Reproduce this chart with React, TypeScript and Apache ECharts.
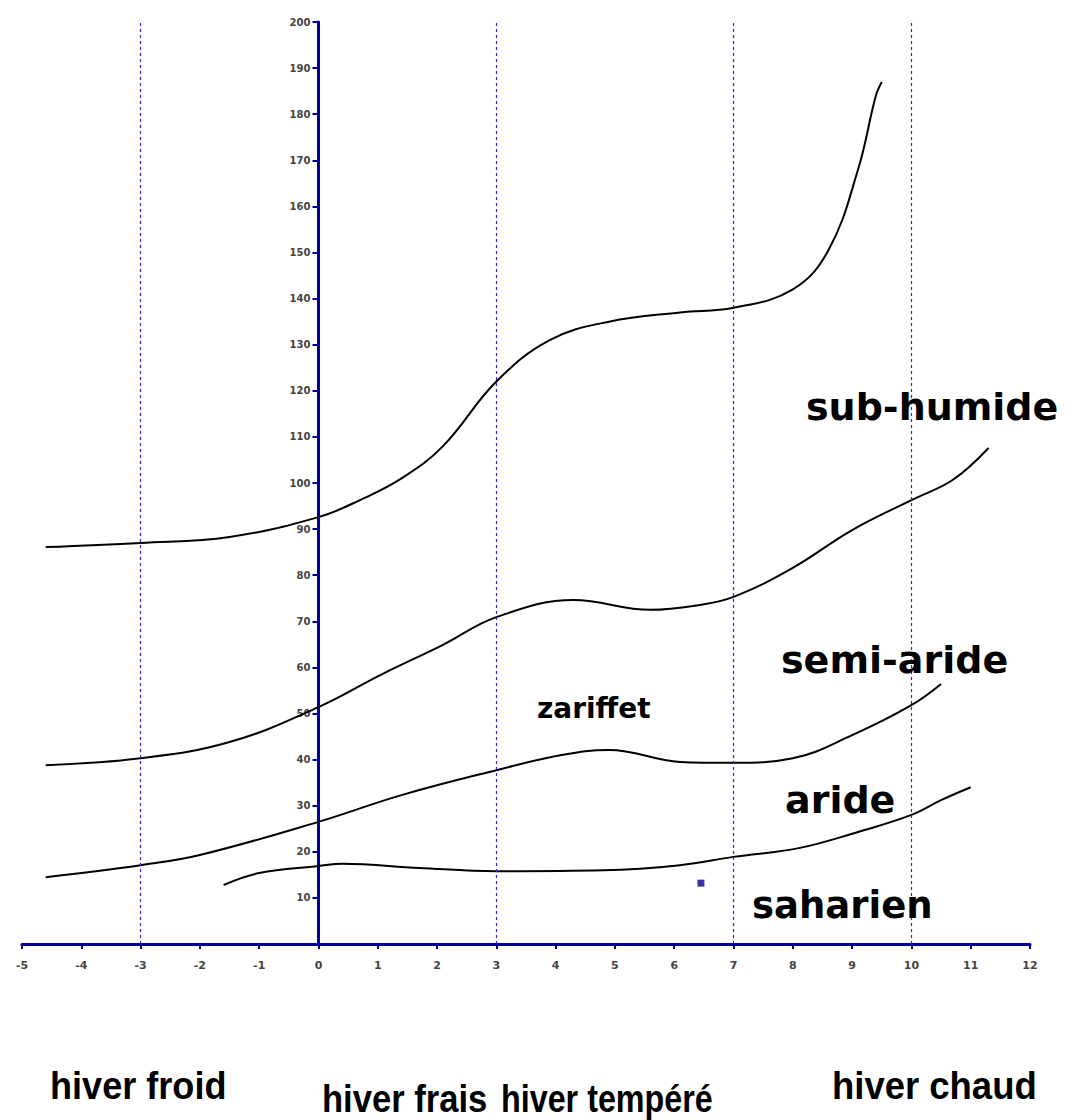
import React, { useEffect, useRef } from "react";
import * as echarts from "echarts";

// x: winter minimum temperature (m, °C); y: Emberger Q2 quotient
const xTicks = { min: -5, max: 12, step: 1 };
const yTicks = { min: 0, max: 200, step: 10 };
const zoneLines = [-3, 3, 7, 10];

const subHumide: [number, number][] = [
  [-4.6, 86.1], [-3, 87], [-1.5, 88.3], [0, 92.6], [0.7, 96.3], [1.4, 101],
  [2.1, 108], [3, 122], [3.9, 131], [4.9, 135], [6.1, 137], [7, 138],
  [8, 142], [8.6, 150.5], [9.1, 168], [9.4, 184], [9.5, 187],
];
const semiAride: [number, number][] = [
  [-4.6, 38.8], [-3, 40.3], [-1.5, 43.8], [0, 51.4], [1.05, 58.4], [2.1, 64.9],
  [3, 70.9], [4.3, 74.6], [5.6, 72.5], [6.4, 73.5], [7, 75.3], [8, 81.6],
  [9, 89.8], [10, 96.3], [10.7, 100.7], [11.3, 107.6],
];
const aride: [number, number][] = [
  [-4.6, 14.5], [-3, 17.1], [-2, 19.3], [0, 26.5], [1.4, 32.3], [3, 37.7],
  [4.1, 41], [4.9, 42.1], [6.1, 39.5], [7, 39.3], [8, 40.3], [9, 45.3],
  [10, 51.8], [10.5, 56.4],
];
const saharien: [number, number][] = [
  [-1.6, 12.8], [-1, 15.4], [0, 16.9], [0.4, 17.4], [1.7, 16.5], [3, 15.8],
  [4.8, 16], [6.1, 17.1], [7, 18.9], [8.1, 20.8], [9.1, 24.3], [10, 28],
  [10.5, 31.2], [11, 34],
];
const station: [number, number][] = [[6.45, 13.2]];

const zoneLabels = [
  { text: "sub-humide", x: 806, y: 407, size: 38 },
  { text: "semi-aride", x: 781, y: 660, size: 38 },
  { text: "zariffet", x: 537, y: 708, size: 28 },
  { text: "aride", x: 785, y: 800, size: 38 },
  { text: "saharien", x: 752, y: 905, size: 37 },
];
const winterLabels = [
  { text: "hiver froid", x: 50, y: 1086, sx: 0.95 },
  { text: "hiver frais", x: 322, y: 1099, sx: 0.91 },
  { text: "hiver tempéré", x: 501, y: 1099, sx: 0.85 },
  { text: "hiver chaud", x: 832, y: 1086, sx: 0.96 },
];

const AXIS = "#000099";
const GRID = { left: 22, right: 44, top: 22, bottom: 176 };
const CHART_W = 1074;

export default function App() {
  const ref = useRef<HTMLDivElement>(null);
  useEffect(() => {
    if (!ref.current) return;
    const chart = echarts.init(ref.current, null, { renderer: "svg" });
    const plotW = CHART_W - GRID.left - GRID.right;
    const yAxisOffset = -((0 - xTicks.min) / (xTicks.max - xTicks.min)) * plotW;
    const curve = (name: string, data: [number, number][]) => ({
      name,
      type: "line",
      data,
      smooth: 0.4,
      showSymbol: false,
      symbol: "none",
      lineStyle: { color: "#000", width: 2 },
      z: 3,
    });
    chart.setOption({
      animation: false,
      backgroundColor: "#fff",
      grid: {
        ...GRID,
        containLabel: false,
        outerBoundsMode: "none",
      },
      xAxis: {
        type: "value",
        min: xTicks.min,
        max: xTicks.max,
        interval: xTicks.step,
        axisLine: { onZero: true, lineStyle: { color: AXIS, width: 3 } },
        axisTick: { show: true, length: 5, lineStyle: { color: AXIS, width: 2 } },
        axisLabel: {
          margin: 16,
          fontSize: 11,
          fontWeight: "bold",
          color: "#444",
          fontFamily: "DejaVu Sans",
        },
        splitLine: { show: false },
      },
      yAxis: {
        type: "value",
        position: "left",
        offset: yAxisOffset,
        min: yTicks.min,
        max: yTicks.max,
        interval: yTicks.step,
        axisLine: { show: true, onZero: false, lineStyle: { color: AXIS, width: 3 } },
        axisTick: { show: true, length: 6, lineStyle: { color: AXIS, width: 2 } },
        axisLabel: {
          margin: 8,
          fontSize: 10,
          fontWeight: "bold",
          color: "#444",
          fontFamily: "DejaVu Sans",
          formatter: (v: number) => (v === 0 ? "" : String(v)),
        },
        splitLine: { show: false },
      },
      series: [
        {
          type: "line",
          data: [],
          markLine: {
            silent: true,
            symbol: "none",
            label: { show: false },
            lineStyle: { color: "#2a2acc", type: [3, 3], width: 1.2 },
            data: zoneLines.map((x) => ({ xAxis: x })),
          },
        },
        curve("sub-humide", subHumide),
        curve("semi-aride", semiAride),
        curve("aride", aride),
        curve("saharien", saharien),
        {
          type: "scatter",
          data: station,
          symbol: "rect",
          symbolSize: 7,
          itemStyle: { color: AXIS },
          z: 4,
        },
      ],
      graphic: [
        ...zoneLabels.map((l) => ({
          type: "text",
          x: l.x,
          y: l.y,
          z: 10,
          style: {
            text: l.text,
            fill: "#000",
            font: `bold ${l.size}px "DejaVu Sans"`,
            textAlign: "left",
            textVerticalAlign: "middle",
          },
        })),
        ...winterLabels.map((l) => ({
          type: "text",
          x: l.x,
          y: l.y,
          scaleX: l.sx,
          z: 10,
          style: {
            text: l.text,
            fill: "#000",
            font: `bold 38px "Liberation Sans"`,
            textAlign: "left",
            textVerticalAlign: "middle",
          },
        })),
      ],
    });
    return () => chart.dispose();
  }, []);
  return (
    <div
      ref={ref}
      style={{ position: "absolute", left: 0, top: 0, width: CHART_W, height: 1120 }}
    />
  );
}
